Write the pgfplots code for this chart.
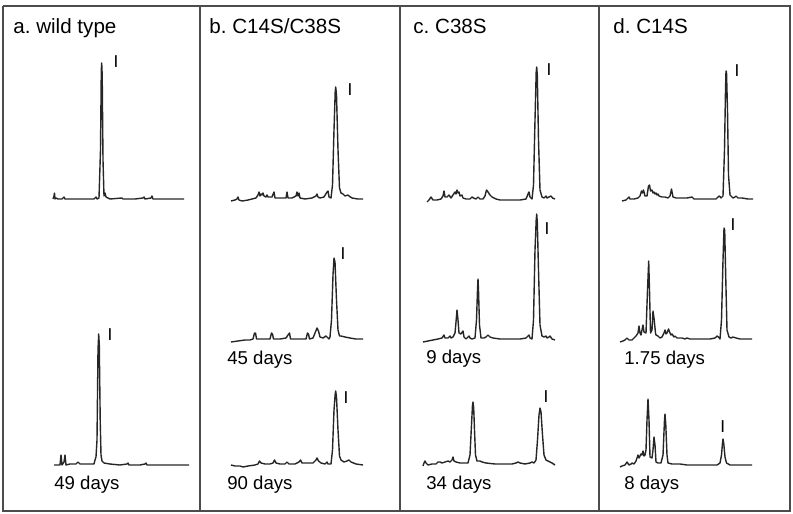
\documentclass[border=0pt]{standalone}
\usepackage{fontspec}
\setmainfont{Liberation Sans}
\usepackage{pgfplots}
\pgfplotsset{compat=1.18}
\frenchspacing

% one axis in image pixel units (y grows downward), 1px = 0.5pt
\pgfplotsset{
  trace/.style={no marks, color=black!85, line width=0.7pt, line join=round},
  frame/.style={no marks, color=black!70, line width=0.8pt},
}
\newcommand{\ttl}{\fontsize{10.3}{12}\selectfont}
\newcommand{\dys}{\fontsize{9.3}{11}\selectfont}
\newcommand{\pk}{\fontsize{8.6}{10}\selectfont}

\begin{document}
\begin{tikzpicture}
\begin{axis}[
  name=ax,
  x=0.5pt, y=0.5pt, scale only axis,
  xmin=0, xmax=793, ymin=0, ymax=514, y dir=reverse,
  hide axis, ticks=none, clip=false,
]
% frame and column separators
\addplot[frame] coordinates {(3,6) (790,6) (790,511) (3,511) (3,6)};
\addplot[frame] coordinates {(200,6) (200,511)};
\addplot[frame] coordinates {(400,6) (400,511)};
\addplot[frame] coordinates {(599,6) (599,511)};

% a. wild type
\addplot[trace] coordinates {(53,199)(54,196)(54.5,193)(55,199)(56,198)(58,199)(62,199)(64,197)(65,199)(75,199)(85,199)(94,199)(96,197)(97,199)(99,198)(100.5,150)(101.3,70)(101.7,63)(102.2,75)(103,160)(104,196)(105,193)(106,197)(110,199)(122,198)(123,199)(135,199)(143,198)(144,197)(145,199)(151,198)(152,196)(153,199)(165,199)(175,199)(184,199)};
\addplot[trace] coordinates {(54,465)(57,465)(60,465)(61,455)(62,465)(64,462)(65,455)(66,465)(70,464)(76,464)(78,462)(80,464)(88,464)(94,464)(95,460)(96,457)(97,440)(98,350)(98.7,334)(99.3,345)(100.2,420)(101,455)(102,461)(104,463)(110,464)(120,465)(127,464)(128,463)(129,465)(140,465)(145,464)(146,463)(147,465)(160,465)(175,465)(189,465)};

% b. C14S/C38S
\addplot[trace] coordinates {(231,201)(235,200)(237,199)(238,197)(239,200)(242,201)(248,200)(252,199)(256,198)(258,195)(259,192)(260,196)(261,194)(262,195)(263,193)(264,196)(266,197)(267,195)(268,197)(270,197)(272,197)(274,192)(275,198)(280,198)(286,198)(287,192)(288,198)(292,198)(296,196)(297,192)(298,196)(299,193)(300,198)(305,199)(312,198)(316,196)(317,194)(318,197)(320,198)(324,197)(327,192)(328,191)(329,197)(331,198)(332.5,185)(334,130)(335.2,92)(335.7,87)(336.5,95)(338,150)(339.5,188)(341,193)(343,194)(345,196)(348,195)(349,196)(352,198)(358,199)(363,199)};
\addplot[trace] coordinates {(231,342)(238,341)(245,340)(250,340)(253,339)(254.5,333)(255.5,333)(256.5,339)(262,339)(270,339)(271.5,333)(272.5,334)(273.5,339)(280,339)(286,338)(288,335)(289.5,333)(290.5,339)(300,339)(306,339)(307.5,333)(308.5,334)(309.5,339)(313,338)(315,333)(317,328)(318.5,331)(320,337)(323,338)(326,336)(327,337)(329,339)(330,337)(331.5,320)(333,275)(334,258)(335,262)(336.5,300)(338,330)(339.5,336)(341,336)(345,337)(350,338)(356,339)(363,339)};
\addplot[trace] coordinates {(231,465)(235,466)(240,466)(243,467)(248,466)(255,465)(258,464)(259.5,461)(261,463)(265,464)(270,464)(273,463)(274.5,460)(276,463)(280,464)(285,464)(287,462)(289,464)(295,464)(299,462)(300.5,460)(302,463)(308,463)(313,463)(316,460)(317,458)(318.5,461)(321,463)(325,464)(327,462)(328,464)(331,464)(332.5,450)(334,410)(335.2,394)(335.7,391)(336.5,397)(338,430)(339.5,456)(341,460)(344,462)(347,461)(349,460)(351,462)(356,464)(363,465)};

% c. C38S
\addplot[trace] coordinates {(427,202)(429,200)(431,197)(433,200)(437,200)(441,199)(443,196)(444,191)(445,197)(447,197)(449,195)(451,198)(453,195)(455,192)(456,194)(457,190)(458,193)(459,192)(460,196)(462,195)(463,198)(466,199)(470,199)(472,197)(473.5,198)(476,199)(478,197)(480,199)(483,199)(485,196)(486.5,190)(488,192)(490,195)(492,197)(496,199)(500,200)(505,200)(512,200)(520,200)(526,199)(528,194)(529,192)(530,197)(532,199)(533.5,185)(535,120)(536.2,72)(536.7,67)(537.3,75)(538.5,140)(540,190)(542,197)(544,198)(546,196)(547,198)(549,197)(551,196)(552.5,198)(555,199)};
\addplot[trace] coordinates {(423,342)(428,341)(433,340)(438,339)(442,338)(444,335)(445,338)(448,338)(450,336)(451,338)(453,337)(455,333)(456,322)(457,310)(458,320)(459,333)(461,334)(463,331)(464,337)(466,339)(468,337)(469,336)(470,338)(472,339)(475,338)(476.5,320)(477.5,290)(478,279)(478.5,290)(479.5,325)(481,338)(484,338)(486,337)(488,335)(490,337)(493,338)(500,339)(510,339)(520,339)(526,338)(528,336)(529,335)(530,338)(532,339)(533.5,320)(535,250)(536.2,220)(536.7,214)(537.3,222)(538.5,270)(540,325)(542,336)(544,337)(546,336)(547,338)(549,337)(550,336)(552,339)(555,340)};
\addplot[trace] coordinates {(423,466)(424,463)(425,461)(426,463)(428,465)(432,464)(436,464)(438,462)(440,462)(442,463)(445,462)(448,461)(450,462)(452,460)(453,457)(454,461)(456,462)(460,463)(468,463)(470,455)(471.5,425)(472.5,405)(473,402)(473.7,408)(474.5,430)(475.5,455)(477,461)(480,461)(482,462)(486,463)(495,464)(505,464)(512,464)(516,463)(518,462)(520,463)(525,464)(530,463)(532,462)(534,463)(536,460)(537.5,440)(539,415)(540,408)(541,412)(542.5,435)(544,455)(546,460)(548,461)(550,462)(552,463)(555,465)};

% d. C14S
\addplot[trace] coordinates {(622,201)(626,200)(628,198)(629,197)(630,199)(634,199)(638,198)(640,196)(641.5,191)(642.5,193)(643.5,190)(645,196)(647,196)(648.5,186)(649.5,185)(650.5,191)(652,190)(653,193)(654,192)(655,194)(656,193)(657,195)(658,194)(659,196)(662,197)(665,197)(668,198)(670,196)(671.5,189)(673,197)(676,198)(680,198)(687,198)(692,197)(694,199)(700,199)(710,199)(716,199)(718,197)(719.5,196)(721,198)(723,196)(724.5,150)(725.5,90)(726,71)(726.5,72)(727.5,110)(728.5,175)(730,195)(733,198)(735,197)(736,196)(738,198)(742,198)(748,199)(753,199)};
\addplot[trace] coordinates {(620,342)(623,341)(625,340)(627,338)(629,340)(632,340)(634,338)(636,336)(638,333)(639,326)(640,333)(641,335)(642,330)(643,325)(644,332)(646,333)(647.5,290)(648.7,261)(649.5,290)(650.5,333)(652,330)(653,311)(654,318)(655.5,333)(656,335)(658,336)(660,338)(662,337)(664,333)(665,330)(666,334)(667,333)(668.5,329)(670,333)(671,335)(672,334)(674,337)(675,336)(677,338)(682,338)(685,339)(687,338)(690,339)(700,339)(710,339)(715,338)(717,336)(718.5,337)(720,339)(721.5,320)(723,260)(724,228)(724.7,230)(725.8,280)(727,330)(729,337)(731,338)(733,337)(736,338)(740,339)(746,339)(752,339)};
\addplot[trace] coordinates {(620,467)(622,466)(625,465)(627,462)(629,465)(631,464)(632,463)(634,464)(636,461)(637,458)(638,455)(639,458)(640,456)(641,454)(642,455)(643,451)(644,456)(645,455)(646,450)(647,420)(648,399)(649,420)(650,457)(652,458)(653,450)(654,437)(655,445)(656,462)(658,463)(661,463)(663,455)(664.5,420)(665,414)(665.8,425)(667,455)(668,463)(672,464)(680,464)(687,465)(700,465)(710,465)(717,465)(720,463)(721.5,455)(722.5,443)(723,439)(723.7,443)(725,457)(726.5,463)(730,465)(740,465)(752,465)};

% panel titles
\node[anchor=base west, inner sep=0, font=\ttl] at (axis cs:13,33) {a. wild type};
\node[anchor=base west, inner sep=0, font=\ttl] at (axis cs:209,33) {b. C14S/C38S};
\node[anchor=base west, inner sep=0, font=\ttl] at (axis cs:413,33) {c. C38S};
\node[anchor=base west, inner sep=0, font=\ttl] at (axis cs:613,33) {d. C14S};

% time labels
\node[anchor=base west, inner sep=0, font=\dys] at (axis cs:54,489) {49 days};
\node[anchor=base west, inner sep=0, font=\dys] at (axis cs:227,364) {45 days};
\node[anchor=base west, inner sep=0, font=\dys] at (axis cs:227,489) {90 days};
\node[anchor=base west, inner sep=0, font=\dys] at (axis cs:426,363) {9 days};
\node[anchor=base west, inner sep=0, font=\dys] at (axis cs:426,489) {34 days};
\node[anchor=base west, inner sep=0, font=\dys] at (axis cs:624,364) {1.75 days};
\node[anchor=base west, inner sep=0, font=\dys] at (axis cs:624,489) {8 days};

% peak marks
\node[anchor=north, inner sep=0, font=\pk] at (axis cs:116,55) {I};
\node[anchor=north, inner sep=0, font=\pk] at (axis cs:110,328) {I};
\node[anchor=north, inner sep=0, font=\pk] at (axis cs:350,83) {I};
\node[anchor=north, inner sep=0, font=\pk] at (axis cs:343,247) {I};
\node[anchor=north, inner sep=0, font=\pk] at (axis cs:346,391) {I};
\node[anchor=north, inner sep=0, font=\pk] at (axis cs:549,63) {I};
\node[anchor=north, inner sep=0, font=\pk] at (axis cs:547,222) {I};
\node[anchor=north, inner sep=0, font=\pk] at (axis cs:546,390) {I};
\node[anchor=north, inner sep=0, font=\pk] at (axis cs:737,64) {I};
\node[anchor=north, inner sep=0, font=\pk] at (axis cs:733,218) {I};
\node[anchor=north, inner sep=0, font=\pk] at (axis cs:722.7,420) {I};
\end{axis}
\pgfresetboundingbox
\path[use as bounding box] (ax.south west) rectangle (ax.north east);
\end{tikzpicture}
\end{document}
